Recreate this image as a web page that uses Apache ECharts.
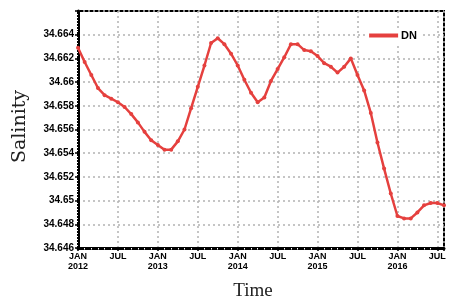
<!DOCTYPE html>
<html>
<head>
<meta charset="utf-8">
<script src="https://cdn.jsdelivr.net/npm/echarts@6/dist/echarts.min.js"></script>
<style>
html,body{margin:0;padding:0;background:#fff;}
#main{width:465px;height:306px;}
</style>
</head>
<body>
<div id="main"></div>
<script>
// Months since Jan 2012 (0 = JAN 2012), monthly samples through Aug 2016
const startYear = 2012;
const monthIndex = [];
for (let i = 0; i < 56; i++) monthIndex.push(i);

const dnValues = [
  // 2012
  34.6629, 34.6617, 34.6606, 34.6595, 34.6589, 34.6586, 34.6583, 34.6579, 34.6573, 34.6566, 34.6558, 34.6551,
  // 2013
  34.6547, 34.6543, 34.6543, 34.6550, 34.6560, 34.6578, 34.6596, 34.6614, 34.6633, 34.6637, 34.6632, 34.6624,
  // 2014
  34.6614, 34.6602, 34.6591, 34.6583, 34.6587, 34.6601, 34.6611, 34.6621, 34.6632, 34.6632, 34.6627, 34.6626,
  // 2015
  34.6622, 34.6616, 34.6613, 34.6608, 34.6613, 34.6620, 34.6606, 34.6593, 34.6574, 34.6549, 34.6527, 34.6506,
  // 2016
  34.6487, 34.6485, 34.6485, 34.6490, 34.6496, 34.6498, 34.6498, 34.6496
];

const yTicks = [34.646, 34.648, 34.65, 34.652, 34.654, 34.656, 34.658, 34.66, 34.662, 34.664];
const seriesName = 'DN';

const chart = echarts.init(document.getElementById('main'));
const data = monthIndex.map((m, i) => [m, dnValues[i]]);

const gridLine = {show: true, lineStyle: {color: '#b3b3b3', width: 1.5, type: [2, 3]}};
const dotTicks = (n) => ({show: true, splitNumber: n, length: 1.5, lineStyle: {color: '#fff', width: 1}});

chart.setOption({
  animation: false,
  grid: {left: 78, right: 21, top: 11, bottom: 49, show: true, borderColor: '#000', borderWidth: 2, backgroundColor: 'transparent'},
  legend: {
    data: [{name: seriesName, icon: 'rect'}],
    right: 45, top: 28,
    itemWidth: 29, itemHeight: 4,
    backgroundColor: '#fff',
    padding: [2, 3, 2, 3],
    itemGap: 4,
    textStyle: {fontFamily: 'Liberation Sans', fontWeight: 900, fontSize: 11, color: '#000', padding: [0, 0, 0, -2]}
  },
  xAxis: {
    type: 'value', min: 0, max: 55, interval: 6,
    name: 'Time', nameLocation: 'middle', nameGap: 34,
    nameTextStyle: {fontFamily: 'Liberation Serif', fontSize: 19, color: '#222', padding: [0, 16, 0, 0]},
    axisLine: {show: true, onZero: false, lineStyle: {color: '#000', width: 3}},
    axisTick: {show: true, length: 3, lineStyle: {color: '#000', width: 1.5}},
    minorTick: dotTicks(6),
    splitLine: gridLine,
    axisLabel: {
      margin: 4, showMaxLabel: false,
      fontFamily: 'Liberation Sans', fontWeight: 'bold', fontSize: 9, color: '#000', lineHeight: 10,
      formatter: v => {
        if (v % 12 === 0) return 'JAN\n' + (startYear + v / 12);
        if (v % 6 === 0) return 'JUL';
        return '';
      }
    }
  },
  yAxis: {
    type: 'value', min: 34.646, max: 34.666, interval: 0.002,
    name: 'Salinity', nameLocation: 'middle', nameGap: 48,
    nameTextStyle: {fontFamily: 'DejaVu Serif', fontSize: 19, color: '#222', padding: [0, 0, 0, 6]},
    axisLine: {show: true, onZero: false, lineStyle: {color: '#000', width: 3}},
    axisTick: {show: true, length: 3, lineStyle: {color: '#000', width: 1.5}},
    minorTick: dotTicks(8),
    splitLine: gridLine,
    axisLabel: {
      margin: 4, showMaxLabel: false,
      fontFamily: 'Liberation Sans', fontWeight: 'bold', fontSize: 10, color: '#000',
      formatter: v => String(parseFloat(v.toFixed(3)))
    }
  },
  series: [{
    name: seriesName, type: 'line',
    data: data,
    symbol: 'circle', symbolSize: 4, showSymbol: true,
    lineStyle: {color: '#e5403e', width: 2.5},
    itemStyle: {color: '#e5403e'},
    z: 3
  }]
});
</script>
</body>
</html>
